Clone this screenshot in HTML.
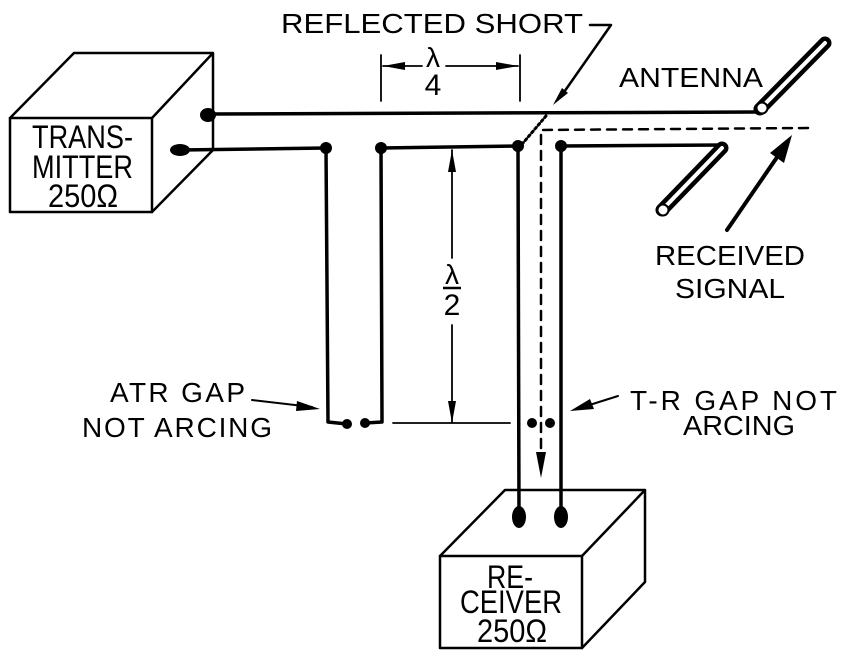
<!DOCTYPE html>
<html><head><meta charset="utf-8"><style>
html,body{margin:0;padding:0;background:#fff;}
svg{display:block;}
text{font-family:"Liberation Sans",sans-serif;fill:#000;}
</style></head><body>
<svg width="845" height="661" viewBox="0 0 845 661" xmlns="http://www.w3.org/2000/svg">
<g stroke="#000" fill="none" stroke-linejoin="round" stroke-linecap="round">
<rect x="10" y="118" width="142" height="94" stroke-width="2.5"/>
<path d="M10 118 L74 53 L213 53 L152 118 M213 53 L213 150 L152 212" stroke-width="2.5"/>
<rect x="440" y="556" width="142" height="92" stroke-width="2.5"/>
<path d="M440 556 L505 490 L645 490 L582 556 M645 490 L645 582 L582 648" stroke-width="2.5"/>
<path d="M208 114 L758 112" stroke-width="3.5"/>
<path d="M180 150 L326 148 L328 422 L347 424" stroke-width="3.5"/>
<path d="M365 423 L382 422 L381 148 L518 146 L519 515" stroke-width="3.5"/>
<path d="M561 515 L561 146 L725 145" stroke-width="3.5"/>
<path d="M546 116 L523 143" stroke-width="3" stroke-dasharray="2 3"/>
<path d="M808 128 L541 130 L541 470" stroke-width="2.5" stroke-dasharray="9 7"/>
<path d="M381 55 L381 101 M520 55 L520 101 M383 66 L422 66 M446 66 L518 66" stroke-width="1.8"/>
<path d="M452 150 L452 258 M452 325 L452 423 M393 423 L510 423" stroke-width="1.8"/>
<path d="M590 25 L611 25 L562 95" stroke-width="2.5"/>
<path d="M727 230 L782 150" stroke-width="4"/>
<path d="M252 400 L312 407" stroke-width="2"/>
<path d="M618 396 L580 408" stroke-width="2"/>
<path d="M760 109 L825 43" stroke-width="13"/>
<path d="M760 109 L825 43" stroke="#fff" stroke-width="4"/>
<path d="M662 210 L722 148" stroke-width="13"/>
<path d="M662 210 L722 148" stroke="#fff" stroke-width="4"/>
</g>
<g fill="#000">
<ellipse cx="208" cy="115" rx="8" ry="7"/>
<ellipse cx="180" cy="150" rx="10" ry="6"/>
<circle cx="326" cy="148" r="6"/><circle cx="381" cy="148" r="6"/>
<circle cx="518" cy="146" r="6"/><circle cx="561" cy="146" r="6"/>
<circle cx="347" cy="424" r="5"/><circle cx="365" cy="423" r="5"/>
<circle cx="532" cy="423" r="5"/><circle cx="550" cy="423" r="5"/>
<ellipse cx="519" cy="517" rx="7" ry="11"/>
<ellipse cx="561" cy="517" rx="7" ry="11"/>
<polygon points="383,66 405,62 405,70"/>
<polygon points="518,66 496,62 496,70"/>
<polygon points="452,150 448,172 456,172"/>
<polygon points="452,423 448,401 456,401"/>
<polygon points="553,105 562,88 568,93"/>
<polygon points="792,135 770,153 784,163"/>
<polygon points="541,478 536,452 546,452"/>
<polygon points="320,409 297,401 296,411"/>
<polygon points="570,411 590,399 594,409"/>
</g>
<circle cx="762" cy="108" r="5.5" fill="#fff" stroke="#000" stroke-width="2"/>
<circle cx="663" cy="210" r="5.5" fill="#fff" stroke="#000" stroke-width="2"/>
<g font-size="28">
<text x="281" y="33" textLength="302" lengthAdjust="spacingAndGlyphs">REFLECTED SHORT</text>
<text x="619" y="87" textLength="144" lengthAdjust="spacingAndGlyphs">ANTENNA</text>
<text x="655" y="265" textLength="150" lengthAdjust="spacingAndGlyphs">RECEIVED</text>
<text x="675" y="298" textLength="110" lengthAdjust="spacingAndGlyphs">SIGNAL</text>
<text x="110" y="402" textLength="135" lengthAdjust="spacing">ATR GAP</text>
<text x="82" y="437" textLength="190" lengthAdjust="spacing">NOT ARCING</text>
<text x="630" y="410" textLength="207" lengthAdjust="spacing">T-R GAP NOT</text>
<text x="683" y="435" textLength="112" lengthAdjust="spacingAndGlyphs">ARCING</text>
</g>
<g font-size="32">
<text x="32" y="148" textLength="101" lengthAdjust="spacingAndGlyphs">TRANS-</text>
<text x="32" y="178" textLength="101" lengthAdjust="spacingAndGlyphs">MITTER</text>
<text x="48" y="207" textLength="70" lengthAdjust="spacingAndGlyphs">250Ω</text>
<text x="487" y="588" textLength="46" lengthAdjust="spacingAndGlyphs">RE-</text>
<text x="460" y="613" textLength="102" lengthAdjust="spacingAndGlyphs">CEIVER</text>
<text x="477" y="642" textLength="70" lengthAdjust="spacingAndGlyphs">250Ω</text>
</g>
<g font-size="30">
<text x="433" y="95" text-anchor="middle">4</text>
<text x="452" y="315" text-anchor="middle">2</text>
<text x="433" y="67" text-anchor="middle" font-size="28">λ</text>
<text x="452" y="284" text-anchor="middle" font-size="28">λ</text>
</g>
<path d="M443 288 L461 288" stroke="#000" stroke-width="2.5"/>
</svg>
</body></html>
